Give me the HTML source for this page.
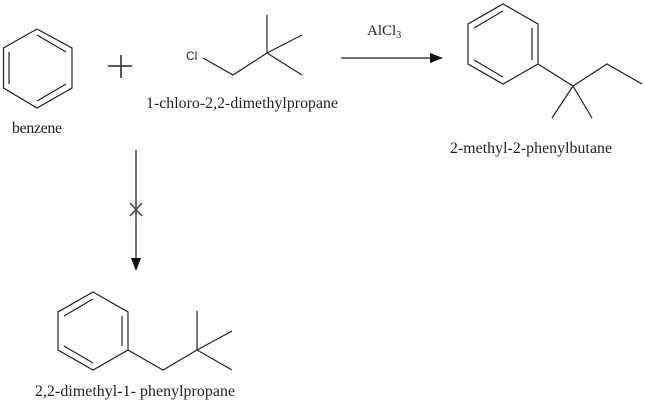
<!DOCTYPE html>
<html><head><style>
html,body{margin:0;padding:0;background:#fff;width:645px;height:405px;overflow:hidden}
svg{display:block}
text{font-family:"Liberation Serif",serif;font-size:15.8px;fill:#222}
</style></head><body>
<svg width="645" height="405" viewBox="0 0 645 405" xmlns="http://www.w3.org/2000/svg">
<g stroke="#222" stroke-width="1.2" fill="none">
<polygon points="37,29 72,48 72,88 37,108 3.5,88 3.5,48"/>
<line x1="9" y1="52" x2="9" y2="84"/>
<line x1="37" y1="35" x2="66" y2="52"/>
<line x1="66" y1="84" x2="37" y2="101"/>
<line x1="108" y1="66" x2="132" y2="66" stroke-width="1.5"/>
<line x1="121" y1="55" x2="121" y2="78" stroke-width="1.5"/>
<polyline points="203,58 233,75 267,53"/>
<line x1="267" y1="53" x2="267" y2="15"/>
<line x1="267" y1="53" x2="302" y2="35"/>
<line x1="267" y1="53" x2="302" y2="75"/>
<polygon points="503,4 538,24 538,64 503,84 468,64 468,24"/>
<line x1="503" y1="11" x2="474" y2="28"/>
<line x1="532" y1="28" x2="532" y2="60"/>
<line x1="474" y1="60" x2="503" y2="77"/>
<polyline points="538,64 573,86 607,64 642,84"/>
<line x1="573" y1="86" x2="552" y2="118"/>
<line x1="573" y1="86" x2="592" y2="118"/>
<polygon points="93,292 128,312 128,350 93,370 58,350 58,312"/>
<line x1="93" y1="299" x2="64" y2="316"/>
<line x1="122" y1="316" x2="122" y2="346"/>
<line x1="64" y1="346" x2="93" y2="363"/>
<polyline points="128,350 163,370 197,350"/>
<line x1="197" y1="350" x2="197" y2="311"/>
<line x1="197" y1="350" x2="232" y2="331"/>
<line x1="197" y1="350" x2="232" y2="370"/>
</g>
<g stroke="#444" stroke-width="1.5">
<line x1="341" y1="58" x2="432" y2="58"/>
<line x1="136" y1="150" x2="136" y2="260"/>
<line x1="130" y1="203" x2="142" y2="216"/>
<line x1="142" y1="203" x2="130" y2="216"/>
</g>
<polygon points="443,58 430,53 430,63" fill="#111"/>
<polygon points="136,271 131,258 141,258" fill="#111"/>
<text x="186" y="60" style="font-family:'Liberation Sans',sans-serif;font-size:12px">Cl</text>
<text x="146" y="108" textLength="192">1-chloro-2,2-dimethylpropane</text>
<text x="12" y="133" textLength="50">benzene</text>
<text x="367" y="35" style="font-size:15px">AlCl<tspan font-size="10" dy="3">3</tspan></text>
<text x="450" y="153" textLength="162">2-methyl-2-phenylbutane</text>
<text x="35" y="396" textLength="200">2,2-dimethyl-1- phenylpropane</text>
</svg>
</body></html>
